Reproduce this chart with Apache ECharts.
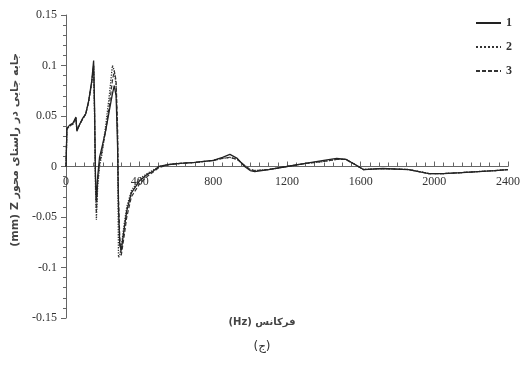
<!DOCTYPE html>
<html><head><meta charset="utf-8">
<script src="https://cdn.jsdelivr.net/npm/echarts@6/dist/echarts.min.js"></script>
<style>html,body{margin:0;padding:0;background:#fff}#c{width:523px;height:381px}</style>
</head><body><div id="c"></div>
<script>
var freq = [0, 5, 20, 38, 54, 59, 75, 91, 107, 123, 140, 150, 155, 160, 165, 172, 182, 195, 215, 235, 252, 262, 272, 280, 285, 292, 300, 315, 330, 355, 400, 440, 470, 505, 560, 620, 700, 800, 850, 890, 930, 970, 1000, 1025, 1100, 1200, 1300, 1400, 1470, 1520, 1560, 1615, 1720, 1860, 1970, 2050, 2150, 2330, 2400];
var s1 = [0, 0.038, 0.041, 0.043, 0.049, 0.035, 0.042, 0.048, 0.052, 0.065, 0.085, 0.105, 0.06, -0.01, -0.035, -0.01, 0.009, 0.019, 0.035, 0.055, 0.072, 0.08, 0.07, 0.02, -0.04, -0.078, -0.083, -0.063, -0.044, -0.026, -0.014, -0.008, -0.005, 0, 0.002, 0.003, 0.004, 0.006, 0.009, 0.012, 0.008, 0, -0.004, -0.005, -0.003, 0, 0.003, 0.006, 0.008, 0.007, 0.003, -0.003, -0.002, -0.003, -0.007, -0.007, -0.006, -0.004, -0.003];
var s2 = [0, 0.037, 0.04, 0.042, 0.048, 0.036, 0.042, 0.047, 0.052, 0.064, 0.083, 0.1, 0.05, -0.02, -0.053, -0.02, 0.0, 0.012, 0.04, 0.07, 0.1, 0.095, 0.08, 0.03, -0.09, -0.088, -0.08, -0.058, -0.04, -0.024, -0.012, -0.007, -0.004, 0, 0.002, 0.003, 0.004, 0.006, 0.008, 0.009, 0.007, 0.001, -0.003, -0.004, -0.003, 0, 0.003, 0.005, 0.007, 0.007, 0.003, -0.003, -0.002, -0.003, -0.007, -0.007, -0.006, -0.004, -0.003];
var s3 = [0, 0.037, 0.04, 0.042, 0.048, 0.036, 0.042, 0.047, 0.052, 0.064, 0.084, 0.1, 0.055, -0.01, -0.045, -0.015, 0.003, 0.015, 0.035, 0.06, 0.085, 0.095, 0.085, 0.04, -0.03, -0.07, -0.088, -0.07, -0.05, -0.03, -0.017, -0.01, -0.006, -0.001, 0.002, 0.003, 0.004, 0.006, 0.008, 0.009, 0.007, 0.001, -0.003, -0.004, -0.003, 0, 0.003, 0.005, 0.007, 0.007, 0.003, -0.003, -0.002, -0.003, -0.007, -0.007, -0.006, -0.004, -0.003];
var seriesNames = ['1', '2', '3'];
var yTitle = '(mm) Z جابه جایی در راستای محور';
var xTitle = '(Hz) فرکانس';
var caption = '(ج)';

function pairs(xs, ys){ return xs.map(function(x,i){ return [x, ys[i]]; }); }
var chart = echarts.init(document.getElementById('c'));
var axisCol = '#666';
var lab = {fontFamily:'Liberation Serif', fontSize:12, color:'#333'};
chart.setOption({
  animation:false,
  backgroundColor:'#fff',
  grid:{left:66, right:10, top:15, bottom:63},
  legend:{orient:'vertical', right:6, top:12, itemWidth:25, itemHeight:14, itemGap:12,
    itemStyle:{color:'rgba(0,0,0,0)', borderColor:'rgba(0,0,0,0)', borderWidth:0},
    textStyle:{fontFamily:'Liberation Serif', fontSize:12, color:'#333', fontWeight:'bold'},
    data:seriesNames},
  xAxis:{type:'value', min:0, max:2400, interval:400, position:'bottom', offset:-151.5,
    axisLine:{onZero:false, lineStyle:{color:axisCol, width:1}},
    axisTick:{inside:true, length:5, lineStyle:{color:axisCol}},
    minorTick:{show:true, splitNumber:8, length:4, lineStyle:{color:axisCol}},
    axisLabel:Object.assign({margin:9, formatter:function(v){ return String(v); }}, lab),
    splitLine:{show:false}},
  yAxis:{type:'value', min:-0.15, max:0.15, interval:0.05,
    axisLine:{show:true, onZero:false, lineStyle:{color:axisCol, width:1}},
    axisTick:{show:true, length:5, lineStyle:{color:axisCol}},
    minorTick:{show:true, splitNumber:5, length:3, lineStyle:{color:axisCol}},
    axisLabel:Object.assign({margin:9, formatter:function(v){ return String(Math.round(v*100)/100); }}, lab),
    splitLine:{show:false}},
  graphic:[
    {type:'text', x:15, y:150, rotation:Math.PI/2,
     style:{text:yTitle, font:'bold 11px "DejaVu Sans"', fill:'#444', align:'center', verticalAlign:'middle'}},
    {type:'text', x:262, y:322, style:{text:xTitle, font:'bold 10px "DejaVu Sans"', fill:'#444', align:'center', verticalAlign:'middle'}},
    {type:'text', x:262, y:347, style:{text:caption, font:'12px "DejaVu Sans"', fill:'#333', align:'center', verticalAlign:'middle'}}
  ],
  series:[
    {name:seriesNames[0], type:'line', symbol:'none', data:pairs(freq,s1), lineStyle:{color:'#222', width:1.3, type:'solid'}, itemStyle:{color:'#222'}, z:3},
    {name:seriesNames[1], type:'line', symbol:'none', data:pairs(freq,s2), lineStyle:{color:'#333', width:1.3, type:'dotted'}, itemStyle:{color:'#333'}, z:2},
    {name:seriesNames[2], type:'line', symbol:'none', data:pairs(freq,s3), lineStyle:{color:'#333', width:1.2, type:[4,2]}, itemStyle:{color:'#333'}, z:2}
  ]
});
</script></body></html>
